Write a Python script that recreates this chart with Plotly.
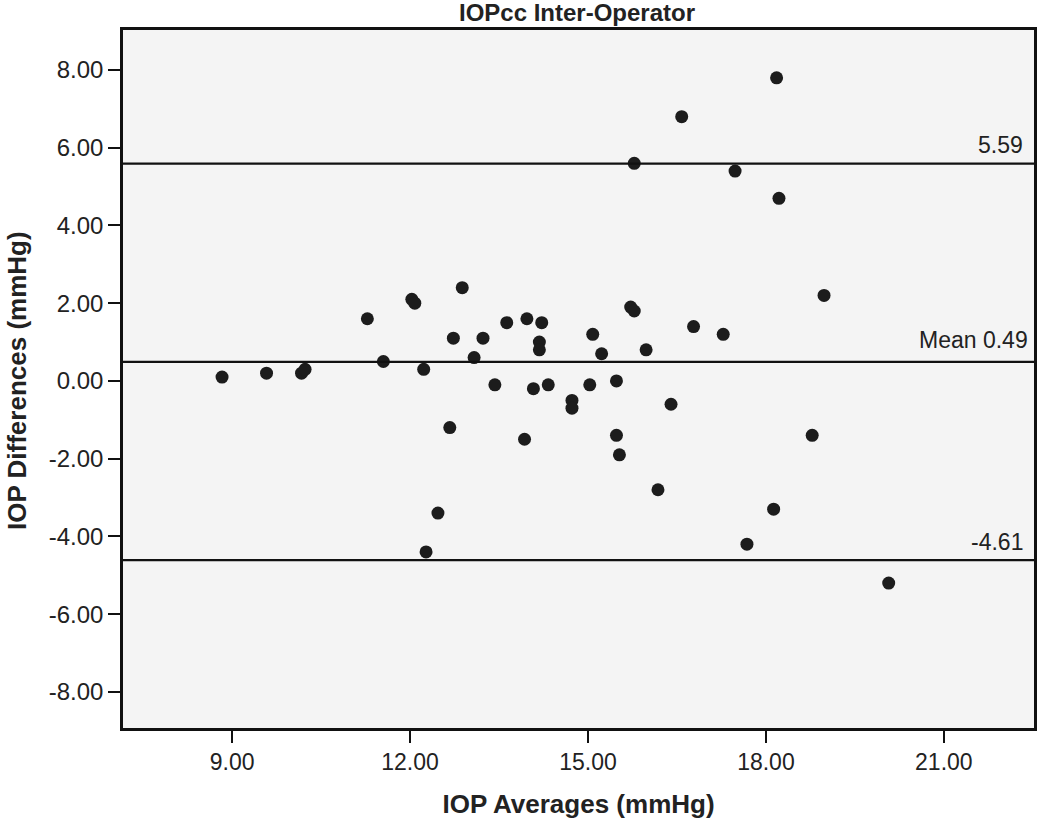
import plotly.graph_objects as go

iop_avg = [8.83, 9.58, 10.17, 10.23, 11.28, 11.55, 12.03, 12.08, 12.23, 12.88,
           12.73, 13.23, 13.08, 13.63, 13.97, 14.22, 14.18, 14.18, 13.43, 14.08,
           14.33, 14.73, 14.73, 12.67, 13.93, 12.47, 12.27,
           15.08, 15.23, 15.72, 15.78, 15.98, 16.78, 17.28, 18.98, 15.03, 15.48,
           16.40, 15.48, 15.53, 18.78, 16.18, 18.13, 17.68, 20.07,
           18.18, 16.58, 15.78, 17.48, 18.22]
iop_diff = [0.1, 0.2, 0.2, 0.3, 1.6, 0.5, 2.1, 2.0, 0.3, 2.4,
            1.1, 1.1, 0.6, 1.5, 1.6, 1.5, 1.0, 0.8, -0.1, -0.2,
            -0.1, -0.5, -0.7, -1.2, -1.5, -3.4, -4.4,
            1.2, 0.7, 1.9, 1.8, 0.8, 1.4, 1.2, 2.2, -0.1, 0.0,
            -0.6, -1.4, -1.9, -1.4, -2.8, -3.3, -4.2, -5.2,
            7.8, 6.8, 5.6, 5.4, 4.7]

ref_values = [5.59, 0.49, -4.61]
ref_labels = ["5.59", "Mean 0.49", "-4.61"]

x_ticks = [9, 12, 15, 18, 21]
y_ticks = [8, 6, 4, 2, 0, -2, -4, -6, -8]

FONT = "Liberation Sans, Arial, sans-serif"
label_xshift = [-9, -4, -9]
label_yshift = [4, 7, 3]

fig = go.Figure()
fig.add_trace(go.Scatter(
    x=iop_avg, y=iop_diff, mode="markers",
    marker=dict(size=13, color="#1c1c1c", line=dict(width=0)),
    showlegend=False, hoverinfo="x+y"))

for v, lab, xs, ys in zip(ref_values, ref_labels, label_xshift, label_yshift):
    fig.add_shape(type="line", xref="paper", x0=0, x1=1, yref="y", y0=v, y1=v,
                  line=dict(color="#111111", width=2.2), layer="above")
    fig.add_annotation(xref="paper", x=1, yref="y", y=v, text=lab,
                       showarrow=False, xanchor="right", yanchor="bottom",
                       xshift=xs, yshift=ys,
                       font=dict(family=FONT, size=23, color="#222222"))

# y-axis title placed as rotated text left of the tick labels
fig.add_annotation(xref="paper", x=0, yref="paper", y=0.5, xshift=-106, yshift=-2,
                   text="<b>IOP Differences (mmHg)</b>", textangle=-90,
                   showarrow=False, xanchor="center", yanchor="middle",
                   font=dict(family=FONT, size=26, color="#222222"))

fig.update_layout(
    width=1050, height=822,
    margin=dict(l=123, r=16, t=30, b=94),
    paper_bgcolor="white", plot_bgcolor="#f4f4f4",
    title=dict(text="<b>IOPcc Inter-Operator</b>", x=577 / 1050, xanchor="center",
               y=1 - 13 / 822, yanchor="middle",
               font=dict(family=FONT, size=24, color="#222222")),
    font=dict(family=FONT, size=23, color="#222222"),
)
fig.update_xaxes(
    range=[7.16, 22.52], tickvals=x_ticks, ticktext=[f"{t:.2f}" for t in x_ticks],
    showgrid=False, zeroline=False, showline=True, linecolor="#111111", linewidth=2.5,
    mirror=True, ticks="outside", ticklen=12, tickwidth=2, tickcolor="#111111",
    title=dict(text="<b>IOP Averages (mmHg)</b>", standoff=21,
               font=dict(family=FONT, size=26)),
    tickfont=dict(size=23), automargin=False)
fig.update_yaxes(
    range=[-8.93, 9.03], tickvals=y_ticks, ticktext=[f"{t:.2f}" for t in y_ticks],
    showgrid=False, zeroline=False, showline=True, linecolor="#111111", linewidth=2.5,
    mirror=True, ticks="outside", ticklen=12, tickwidth=2, tickcolor="#111111",
    tickfont=dict(size=24), automargin=False)

fig.write_html("out.html", config={"displayModeBar": False},
               post_script="document.body.style.margin='0';")
